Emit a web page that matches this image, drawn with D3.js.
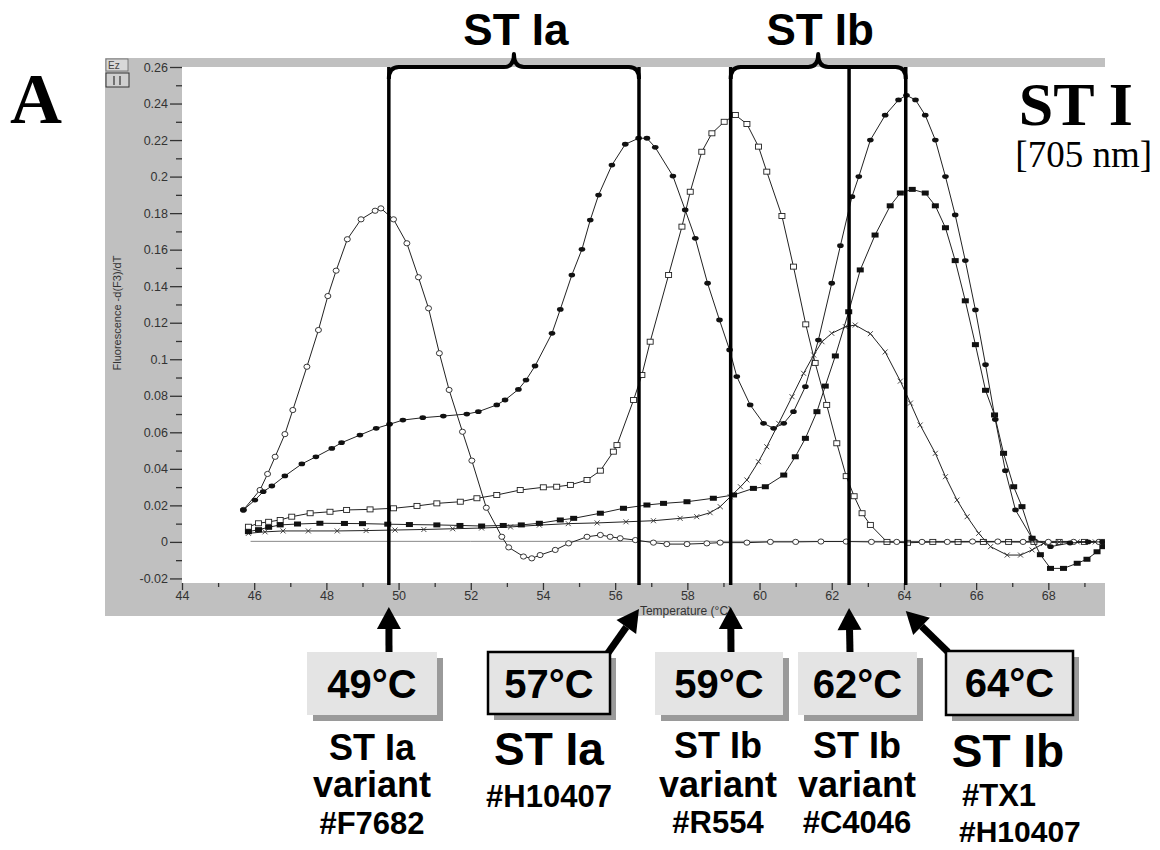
<!DOCTYPE html>
<html><head><meta charset="utf-8">
<script src="https://cdn.jsdelivr.net/npm/d3@7"></script>
<style>body{margin:0;background:#fff;} svg{display:block;}</style>
</head><body>
<svg id="chart" width="1160" height="850"></svg>
<script>
// ---------- data ----------
const xTicks = [44,46,48,50,52,54,56,58,60,62,64,66,68];
const xMinorTicks = [45,47,49,51,53,55,57,59,61,63,65,67,69];
const yTicks = [-0.02,0,0.02,0.04,0.06,0.08,0.1,0.12,0.14,0.16,0.18,0.2,0.22,0.24,0.26];
const yMinorTicks = [-0.01,0.01,0.03,0.05,0.07,0.09,0.11,0.13,0.15,0.17,0.19,0.21,0.23,0.25];

// ST Ia variant #F7682 (open circles)
const tF7682 = [45.70,46.16,46.37,46.58,46.85,47.07,47.46,47.78,48.04,48.27,48.58,48.96,49.35,49.51,49.86,50.23,50.55,50.83,51.13,51.40,51.77,52.03,52.43,52.86,53.05,53.46,53.69,53.92,54.34,54.71,55.22,55.59,55.86,56.14,56.56,57.06,57.43,57.99,58.54,58.91,59.65,60.3,61.0,61.7,62.4,63.1,63.8,64.5,65.2,65.9,66.6,67.3,68.0,68.7,69.4];
const vF7682 = [0.0175,0.0284,0.0372,0.0466,0.059,0.0722,0.0959,0.116,0.1346,0.1485,0.1657,0.1766,0.1813,0.1826,0.1766,0.1635,0.1449,0.1279,0.1033,0.0832,0.0603,0.0445,0.0187,0.0028,-0.003,-0.008,-0.009,-0.0072,-0.0044,-0.0008,0.0028,0.0038,0.0028,0.002,0.001,-0.0004,-0.0012,-0.0012,-0.0008,-0.0004,-0.0004,0,0,0.0002,0.0002,0,0,0,0,0.0002,0.0002,0,0,0,0];

// #H10407 (filled circles) - ST Ia + ST Ib peaks
const tH10407 = [45.70,46.02,46.25,46.49,46.85,47.32,47.71,48.15,48.42,48.93,49.38,49.75,50.12,50.67,51.24,51.89,52.21,52.72,52.95,53.32,53.53,53.78,54.25,54.48,54.80,55.08,55.31,55.54,55.91,56.28,56.65,56.88,57.11,57.60,57.94,58.22,58.56,58.89,59.17,59.37,59.74,60.11,60.39,60.67,60.94,61.27,61.63,62.0,62.24,62.56,62.75,63.07,63.48,63.85,64.07,64.32,64.59,64.87,65.15,65.42,65.70,65.98,66.26,66.53,66.81,67.09,67.55,68.06,68.6,69.1,69.5];
const vH10407 = [0.0175,0.0229,0.0275,0.0306,0.0361,0.0427,0.0466,0.0512,0.0543,0.0585,0.0622,0.0644,0.0667,0.068,0.0689,0.070,0.0713,0.075,0.0777,0.0835,0.0886,0.0963,0.1142,0.1273,0.1461,0.1602,0.1762,0.1899,0.2063,0.2177,0.221,0.221,0.216,0.2003,0.1817,0.1662,0.1416,0.1215,0.1051,0.0905,0.075,0.0649,0.0622,0.0649,0.0713,0.085,0.1105,0.1416,0.1622,0.189,0.2,0.22,0.2336,0.242,0.2445,0.242,0.2336,0.22,0.2,0.179,0.154,0.127,0.097,0.067,0.039,0.0175,0.002,-0.0026,-0.0006,0,0];

// ST Ib variant #R554 (open squares)
const tR554 = [45.84,46.12,46.40,46.72,47.04,47.55,48.10,48.56,49.21,49.86,50.51,51.06,51.71,52.17,52.72,53.37,54.01,54.38,54.76,55.22,55.59,55.95,56.05,56.51,56.74,56.97,57.48,57.85,58.08,58.40,58.68,59.02,59.33,59.65,59.97,60.20,60.62,60.94,61.28,61.54,61.86,62.14,62.40,62.62,62.84,63.07,63.53,64.1,64.8,65.5,66.2,66.9,67.6,68.3,69.0,69.5];
const vR554 = [0.0083,0.0102,0.011,0.012,0.0138,0.0157,0.0165,0.0175,0.0178,0.0184,0.0197,0.0211,0.022,0.0239,0.0257,0.0284,0.0299,0.0302,0.0312,0.0339,0.039,0.0494,0.053,0.0777,0.0914,0.1096,0.1461,0.1726,0.1917,0.2136,0.2237,0.23,0.2337,0.2288,0.2164,0.2027,0.1784,0.1507,0.1191,0.098,0.075,0.054,0.036,0.025,0.0157,0.0093,0,-0.0005,0,0,0,0,0,0,0,0];

// ST Ib variant #C4046 (crosses)
const tC4046 = [45.84,46.3,46.8,47.5,48.3,49.1,49.9,50.7,51.5,52.3,53.1,53.9,54.7,55.5,56.3,57.06,57.8,58.26,58.63,58.91,59.19,59.47,59.65,59.97,60.20,60.53,60.90,61.22,61.50,61.73,62.0,62.38,62.65,63.07,63.48,63.9,64.18,64.45,64.87,65.15,65.47,65.75,66.07,66.4,66.86,67.23,67.55,67.87,68.3,68.8,69.3];
const vC4046 = [0.0047,0.0055,0.006,0.006,0.006,0.0062,0.0065,0.0068,0.0072,0.0076,0.0082,0.0092,0.010,0.0104,0.011,0.0116,0.0129,0.0138,0.016,0.0193,0.0247,0.0302,0.0339,0.0439,0.0521,0.0649,0.0795,0.0923,0.1023,0.1096,0.1142,0.1178,0.1187,0.114,0.104,0.088,0.076,0.064,0.0485,0.0357,0.0229,0.0138,0.0047,-0.0026,-0.0072,-0.0072,-0.0044,-0.0008,0,0,0];

// ST Ib #TX1 (filled squares)
const tTX1 = [45.84,46.12,46.40,46.72,47.2,47.82,48.5,49.0,49.7,50.3,51.06,51.7,52.3,52.9,53.4,53.9,54.48,54.85,55.59,56.23,56.88,57.34,57.99,58.72,59.28,59.83,60.16,60.67,60.99,61.27,61.59,61.82,62.10,62.47,62.79,63.2,63.62,63.9,64.23,64.59,64.87,65.15,65.42,65.70,65.98,66.26,66.51,66.76,67.04,67.27,67.55,67.78,68.06,68.42,68.80,69.07,69.35,69.51];
const vTX1 = [0.0056,0.0067,0.008,0.0093,0.0098,0.0102,0.0101,0.010,0.0097,0.0095,0.0093,0.009,0.0087,0.009,0.0093,0.0102,0.012,0.0129,0.0157,0.0184,0.0202,0.0211,0.022,0.0239,0.0257,0.0293,0.0302,0.0366,0.0466,0.0567,0.0713,0.0853,0.1018,0.126,0.1489,0.168,0.184,0.191,0.193,0.191,0.184,0.172,0.154,0.132,0.108,0.083,0.0695,0.0485,0.0302,0.0193,0.002,-0.007,-0.0145,-0.0145,-0.0117,-0.0095,-0.0054,-0.0026];

// control baseline (thin line)
const tControl = [45.9,52,58,64,69.5];
const vControl = [0.0003,0.0003,0.0003,0.0003,0.0003];

// annotations
const meltLines = [49.73,56.66,59.2,62.48,64.05];
const meltLabels = ["49°C","57°C","59°C","62°C","64°C"];
const boxBordered = [false,true,false,false,true];
const groupNames = ["ST Ia","ST Ib"];

// ---------- drawing ----------
const svg = d3.select("#chart");
const x = d3.scaleLinear().domain([44,69.57]).range([182,1105]);
const y = d3.scaleLinear().domain([-0.0225,0.26]).range([583,67]);
const grey = "#c0c0c0";
const sans = "'Liberation Sans', Arial, sans-serif";
const serif = "'Liberation Serif', 'Times New Roman', serif";

// frame
svg.append("rect").attr("x",105).attr("y",58).attr("width",1000).attr("height",558).attr("fill",grey);
svg.append("rect").attr("x",182).attr("y",67).attr("width",923).attr("height",516).attr("fill","#fff");

// icon top-left
svg.append("rect").attr("x",106).attr("y",59).attr("width",22).attr("height",12).attr("fill","#d8d8d8").attr("stroke","#666").attr("stroke-width",0.8);
svg.append("text").attr("x",108).attr("y",69).attr("font-family",sans).attr("font-size",10).attr("fill","#444").text("Ez");
svg.append("rect").attr("x",106).attr("y",73).attr("width",23).attr("height",14).attr("fill","#cfcfcf").attr("stroke","#333").attr("stroke-width",1);
svg.append("line").attr("x1",114).attr("x2",114).attr("y1",76).attr("y2",85).attr("stroke","#333").attr("stroke-width",1.2);
svg.append("line").attr("x1",120).attr("x2",120).attr("y1",76).attr("y2",85).attr("stroke","#333").attr("stroke-width",1.2);

// axes
const fmt = v => String(+v.toFixed(2));
const yAx = svg.append("g").attr("transform","translate(182,0)")
  .call(d3.axisLeft(y).tickValues(yTicks).tickSize(12).tickPadding(2).tickFormat(fmt));
const yAxm = svg.append("g").attr("transform","translate(182,0)")
  .call(d3.axisLeft(y).tickValues(yMinorTicks).tickSize(6).tickFormat(""));
const xAx = svg.append("g").attr("transform","translate(0,583)")
  .call(d3.axisBottom(x).tickValues(xTicks).tickSize(7).tickPadding(1).tickFormat(d=>d));
const xAxm = svg.append("g").attr("transform","translate(0,583)")
  .call(d3.axisBottom(x).tickValues(xMinorTicks).tickSize(4).tickFormat(""));
[yAx,yAxm,xAx,xAxm].forEach(g=>{
  g.select(".domain").remove();
  g.selectAll("line").attr("stroke","#333").attr("stroke-width",1.3);
  g.selectAll("text").attr("font-family",sans).attr("font-size",12.5).attr("fill","#333");
});
svg.append("text").attr("transform","translate(121,313) rotate(-90)").attr("text-anchor","middle")
  .attr("font-family",sans).attr("font-size",11).attr("fill","#333").text("Fluorescence -d(F3)/dT");
svg.append("text").attr("x",686).attr("y",615).attr("text-anchor","middle")
  .attr("font-family",sans).attr("font-size",12).attr("fill","#333").text("Temperature (°C)");

// curves
svg.append("clipPath").attr("id","plotclip").append("rect").attr("x",182).attr("y",67).attr("width",923).attr("height",516);
const plot = svg.append("g").attr("clip-path","url(#plotclip)");
const line = d3.line().x(d=>x(d[0])).y(d=>y(d[1]));
const zip = (a,b) => a.map((t,i)=>[t,b[i]]);

plot.append("path").datum(zip(tControl,vControl)).attr("d",line).attr("fill","none").attr("stroke","#888").attr("stroke-width",1);

const series = [
  {t:tR554, v:vR554, m:"osq"},
  {t:tC4046, v:vC4046, m:"x"},
  {t:tTX1, v:vTX1, m:"fsq"},
  {t:tF7682, v:vF7682, m:"oc"},
  {t:tH10407, v:vH10407, m:"fc"}
];
series.forEach(s=>{
  const data = zip(s.t,s.v);
  plot.append("path").datum(data).attr("d",line).attr("fill","none").attr("stroke","#222").attr("stroke-width",1);
  const g = plot.append("g");
  data.forEach(d=>{
    const cx = x(d[0]), cy = y(d[1]);
    if (s.m==="oc") g.append("ellipse").attr("cx",cx).attr("cy",cy).attr("rx",3).attr("ry",2.6).attr("fill","#fff").attr("stroke","#222").attr("stroke-width",0.9);
    else if (s.m==="fc") g.append("ellipse").attr("cx",cx).attr("cy",cy).attr("rx",3.3).attr("ry",2.4).attr("fill","#111");
    else if (s.m==="osq") g.append("rect").attr("x",cx-3).attr("y",cy-2.5).attr("width",6).attr("height",5).attr("fill","#fff").attr("stroke","#222").attr("stroke-width",0.9);
    else if (s.m==="fsq") g.append("rect").attr("x",cx-3.5).attr("y",cy-2.5).attr("width",7).attr("height",5).attr("fill","#111");
    else g.append("path").attr("d",`M${cx-2.5},${cy-2.5}L${cx+2.5},${cy+2.5}M${cx-2.5},${cy+2.5}L${cx+2.5},${cy-2.5}`).attr("stroke","#333").attr("stroke-width",0.9);
  });
});

// vertical melting-temperature lines
meltLines.forEach(t=>{
  svg.append("line").attr("x1",x(t)).attr("x2",x(t)).attr("y1",67).attr("y2",585).attr("stroke","#000").attr("stroke-width",3.5);
});

// braces
function brace(x1,x2,yb){
  const xm=(x1+x2)/2, r=10;
  return `M${x1},${yb+12} Q${x1},${yb} ${x1+r},${yb} L${xm-10},${yb} Q${xm},${yb} ${xm},${yb-13} Q${xm},${yb} ${xm+10},${yb} L${x2-r},${yb} Q${x2},${yb} ${x2},${yb+12}`;
}
const groups = [[0,1],[2,4]];
groups.forEach((g,i)=>{
  const x1=x(meltLines[g[0]]), x2=x(meltLines[g[1]]);
  svg.append("path").attr("d",brace(x1,x2,67)).attr("fill","none").attr("stroke","#000").attr("stroke-width",4).attr("stroke-linejoin","round");
  svg.append("text").attr("x",(x1+x2)/2+2).attr("y",45).attr("text-anchor","middle")
    .attr("font-family",sans).attr("font-weight","bold").attr("font-size",44).text(groupNames[i]);
});

// panel titles
svg.append("text").attr("x",10).attr("y",123).attr("font-family",serif).attr("font-weight","bold").attr("font-size",72).text("A");
svg.append("text").attr("x",1133).attr("y",125).attr("text-anchor","end").attr("font-family",serif).attr("font-weight","bold").attr("font-size",62).text("ST I");
svg.append("text").attr("x",1152).attr("y",167).attr("text-anchor","end").attr("font-family",serif).attr("font-size",37).text("[705 nm]");

// arrows
const tails = [[389,652],[608,653],[731,652],[850,652],[948,652]];
const tipY = [607,609,607,608,611];
meltLines.forEach((t,i)=>{
  const tx=x(t), ty=tipY[i], sx=tails[i][0], sy=tails[i][1];
  const ang=Math.atan2(ty-sy,tx-sx), L=22, W=12;
  const bx=tx-L*Math.cos(ang), by=ty-L*Math.sin(ang);
  const px=-Math.sin(ang), py=Math.cos(ang);
  svg.append("line").attr("x1",sx).attr("y1",sy).attr("x2",bx).attr("y2",by).attr("stroke","#000").attr("stroke-width",7);
  svg.append("path").attr("d",`M${tx},${ty}L${bx+W*px},${by+W*py}L${bx-W*px},${by-W*py}Z`).attr("fill","#000");
});

// boxes
const boxes = [[307,652,130,63],[488,652,122,62],[655,652,128,63],[798,652,119,63],[946,651,127,64]];
boxes.forEach((b,i)=>{
  svg.append("rect").attr("x",b[0]+6).attr("y",b[1]+6).attr("width",b[2]).attr("height",b[3]).attr("fill","#9a9a9a");
  svg.append("rect").attr("x",b[0]).attr("y",b[1]).attr("width",b[2]).attr("height",b[3]).attr("fill","#e4e4e4")
    .attr("stroke",boxBordered[i]?"#000":"none").attr("stroke-width",2.5);
  svg.append("text").attr("x",b[0]+b[2]/2).attr("y",b[1]+46).attr("text-anchor","middle")
    .attr("font-family",sans).attr("font-weight","bold").attr("font-size",40).text(meltLabels[i]);
});

// strain labels
const subLabels = [
  [{t:"ST Ia",x:372,y:760,s:36,a:"middle"},{t:"variant",x:372,y:797,s:36,a:"middle"},{t:"#F7682",x:372,y:834,s:31,a:"middle"}],
  [{t:"ST Ia",x:549,y:765,s:46,a:"middle"},{t:"#H10407",x:549,y:807,s:31,a:"middle"}],
  [{t:"ST Ib",x:718,y:758,s:36,a:"middle"},{t:"variant",x:718,y:797,s:36,a:"middle"},{t:"#R554",x:718,y:833,s:31,a:"middle"}],
  [{t:"ST Ib",x:857,y:758,s:36,a:"middle"},{t:"variant",x:857,y:797,s:36,a:"middle"},{t:"#C4046",x:857,y:833,s:31,a:"middle"}],
  [{t:"ST Ib",x:1008,y:767,s:46,a:"middle"},{t:"#TX1",x:962,y:806,s:31,a:"start"},{t:"#H10407",x:959,y:842,s:30,a:"start"}]
];
subLabels.forEach(arr=>arr.forEach(l=>{
  svg.append("text").attr("x",l.x).attr("y",l.y).attr("text-anchor",l.a)
    .attr("font-family",sans).attr("font-weight","bold").attr("font-size",l.s).text(l.t);
}));
</script>
</body></html>
